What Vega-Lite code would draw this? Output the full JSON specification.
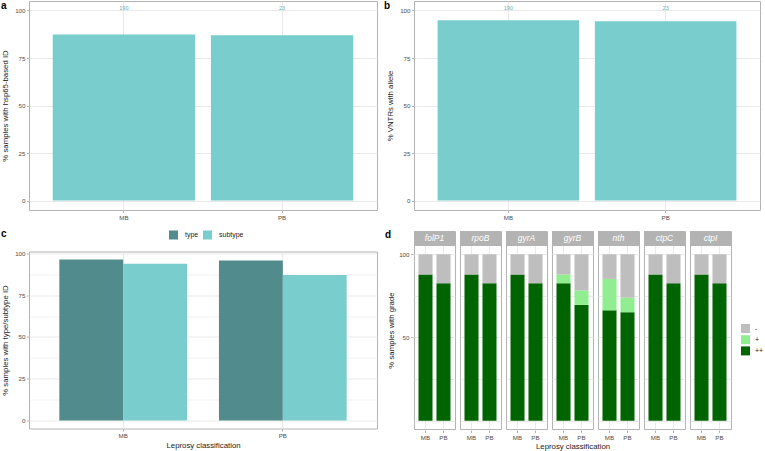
{
  "$schema": "https://vega.github.io/schema/vega-lite/v6.json",
  "padding": {"left": 0, "top": 0, "right": 0, "bottom": 0},
  "autosize": {"type": "pad"},
  "background": "white",
  "config": {
    "font": "Liberation Sans",
    "view": {"stroke": "#B3B3B3", "strokeWidth": 1},
    "axis": {
      "domain": false,
      "gridColor": "#E3E3E3",
      "gridWidth": 0.8,
      "tickColor": "#B3B3B3",
      "tickSize": 2.5,
      "labelFont": "Liberation Sans",
      "labelFontSize": 6.2,
      "labelColor": "#4D4D4D",
      "labelPadding": 1.5,
      "titleFont": "Liberation Sans",
      "titleFontSize": 7.8,
      "titleFontWeight": "normal",
      "titleColor": "#1A1A1A",
      "titlePadding": 5
    },
    "axisX": {"labelAngle": 0, "grid": true},
    "legend": {
      "title": null,
      "padding": 0,
      "symbolType": "square",
      "symbolSize": 81,
      "symbolStrokeWidth": 0,
      "labelFont": "Liberation Sans",
      "labelFontSize": 7,
      "labelColor": "#1A1A1A",
      "labelOffset": 7
    },
    "title": {"font": "Liberation Sans", "fontSize": 10, "fontWeight": "bold", "color": "#000000", "anchor": "start", "frame": "group"}
  },
  "datasets": {
    "ab": [
      {"panel": "a", "class": "MB", "pct": 87.4, "n": 190},
      {"panel": "a", "class": "PB", "pct": 87.0, "n": 23},
      {"panel": "b", "class": "MB", "pct": 94.9, "n": 190},
      {"panel": "b", "class": "PB", "pct": 94.3, "n": 23}
    ],
    "c": [
      {"class": "MB", "id": "type", "pct": 96.3},
      {"class": "MB", "id": "subtype", "pct": 93.7},
      {"class": "PB", "id": "type", "pct": 95.7},
      {"class": "PB", "id": "subtype", "pct": 87.0}
    ],
    "d": [
      {"gene": "folP1", "class": "MB", "grade": "++", "pct": 87.9},
      {"gene": "folP1", "class": "MB", "grade": "+", "pct": 0},
      {"gene": "folP1", "class": "MB", "grade": "-", "pct": 12.1},
      {"gene": "folP1", "class": "PB", "grade": "++", "pct": 82.6},
      {"gene": "folP1", "class": "PB", "grade": "+", "pct": 0},
      {"gene": "folP1", "class": "PB", "grade": "-", "pct": 17.4},
      {"gene": "rpoB", "class": "MB", "grade": "++", "pct": 87.9},
      {"gene": "rpoB", "class": "MB", "grade": "+", "pct": 0},
      {"gene": "rpoB", "class": "MB", "grade": "-", "pct": 12.1},
      {"gene": "rpoB", "class": "PB", "grade": "++", "pct": 82.6},
      {"gene": "rpoB", "class": "PB", "grade": "+", "pct": 0},
      {"gene": "rpoB", "class": "PB", "grade": "-", "pct": 17.4},
      {"gene": "gyrA", "class": "MB", "grade": "++", "pct": 87.9},
      {"gene": "gyrA", "class": "MB", "grade": "+", "pct": 0},
      {"gene": "gyrA", "class": "MB", "grade": "-", "pct": 12.1},
      {"gene": "gyrA", "class": "PB", "grade": "++", "pct": 82.6},
      {"gene": "gyrA", "class": "PB", "grade": "+", "pct": 0},
      {"gene": "gyrA", "class": "PB", "grade": "-", "pct": 17.4},
      {"gene": "gyrB", "class": "MB", "grade": "++", "pct": 82.6},
      {"gene": "gyrB", "class": "MB", "grade": "+", "pct": 5.3},
      {"gene": "gyrB", "class": "MB", "grade": "-", "pct": 12.1},
      {"gene": "gyrB", "class": "PB", "grade": "++", "pct": 69.6},
      {"gene": "gyrB", "class": "PB", "grade": "+", "pct": 8.7},
      {"gene": "gyrB", "class": "PB", "grade": "-", "pct": 21.7},
      {"gene": "nth", "class": "MB", "grade": "++", "pct": 66.3},
      {"gene": "nth", "class": "MB", "grade": "+", "pct": 18.9},
      {"gene": "nth", "class": "MB", "grade": "-", "pct": 14.8},
      {"gene": "nth", "class": "PB", "grade": "++", "pct": 65.2},
      {"gene": "nth", "class": "PB", "grade": "+", "pct": 8.7},
      {"gene": "nth", "class": "PB", "grade": "-", "pct": 26.1},
      {"gene": "ctpC", "class": "MB", "grade": "++", "pct": 87.9},
      {"gene": "ctpC", "class": "MB", "grade": "+", "pct": 0},
      {"gene": "ctpC", "class": "MB", "grade": "-", "pct": 12.1},
      {"gene": "ctpC", "class": "PB", "grade": "++", "pct": 82.6},
      {"gene": "ctpC", "class": "PB", "grade": "+", "pct": 0},
      {"gene": "ctpC", "class": "PB", "grade": "-", "pct": 17.4},
      {"gene": "ctpI", "class": "MB", "grade": "++", "pct": 87.9},
      {"gene": "ctpI", "class": "MB", "grade": "+", "pct": 0},
      {"gene": "ctpI", "class": "MB", "grade": "-", "pct": 12.1},
      {"gene": "ctpI", "class": "PB", "grade": "++", "pct": 82.6},
      {"gene": "ctpI", "class": "PB", "grade": "+", "pct": 0},
      {"gene": "ctpI", "class": "PB", "grade": "-", "pct": 17.4}
    ]
  },
  "spacing": 5,
  "resolve": {"scale": {"color": "independent", "x": "independent", "y": "independent"}, "legend": {"color": "independent"}},
  "hconcat": [
    {
      "spacing": 6.5,
      "resolve": {"scale": {"color": "independent", "x": "independent", "y": "independent"}, "legend": {"color": "independent"}},
      "vconcat": [
        {
          "width": 348,
          "height": 209,
          "title": {"text": "a", "offset": -9.5, "dx": -28},
          "data": {"name": "ab"},
          "transform": [{"filter": "datum.panel == 'a'"}],
          "layer": [
            {
              "mark": {"type": "bar", "color": "#79CDCD"},
              "encoding": {
                "x": {"field": "class", "type": "nominal", "scale": {"paddingInner": 0.1, "paddingOuter": 0.15}, "axis": {"title": null}},
                "y": {"field": "pct", "type": "quantitative", "title": "% samples with hsp65-based ID",
                  "scale": {"domain": [-5, 105], "nice": false, "zero": false},
                  "axis": {"values": [0, 12.5, 25, 37.5, 50, 62.5, 75, 87.5, 100],
                    "labelExpr": "datum.value % 25 === 0 ? datum.label : ''",
                    "tickOpacity": {"condition": {"test": "datum.value % 25 === 0", "value": 1}, "value": 0},
                    "gridWidth": {"condition": {"test": "datum.value % 25 === 0", "value": 0.8}, "value": 0.5}}}
              }
            },
            {
              "mark": {"type": "text", "color": "#5DB2B6", "baseline": "bottom", "fontSize": 5.5},
              "encoding": {
                "x": {"field": "class", "type": "nominal"},
                "y": {"datum": 100, "type": "quantitative", "title": "% samples with hsp65-based ID"},
                "text": {"field": "n", "type": "nominal"}
              }
            }
          ]
        },
        {
          "width": 348,
          "height": 177,
          "title": {"text": "c", "offset": -8, "dx": -28},
          "data": {"name": "c"},
          "mark": {"type": "bar"},
          "encoding": {
            "x": {"field": "class", "type": "nominal", "scale": {"paddingInner": 0.2, "paddingOuter": 0.19}, "axis": {"title": "Leprosy classification", "titlePadding": 3}},
            "xOffset": {"field": "id", "type": "nominal", "sort": ["type", "subtype"], "scale": {"paddingInner": 0, "paddingOuter": 0}},
            "y": {"field": "pct", "type": "quantitative", "title": "% samples with type/subtype ID",
              "scale": {"domain": [-4.8, 101.1], "nice": false, "zero": false},
              "axis": {"values": [0, 12.5, 25, 37.5, 50, 62.5, 75, 87.5, 100],
                "labelExpr": "datum.value % 25 === 0 ? datum.label : ''",
                "tickOpacity": {"condition": {"test": "datum.value % 25 === 0", "value": 1}, "value": 0},
                "gridWidth": {"condition": {"test": "datum.value % 25 === 0", "value": 0.8}, "value": 0.5}}},
            "color": {"field": "id", "type": "nominal",
              "scale": {"domain": ["type", "subtype"], "range": ["#528B8B", "#79CDCD"]},
              "legend": {"orient": "none", "direction": "horizontal", "legendX": 140, "legendY": -21, "columnPadding": 4}}
          }
        }
      ]
    },
    {
      "spacing": 8,
      "resolve": {"scale": {"color": "independent", "x": "independent", "y": "independent"}, "legend": {"color": "independent"}},
      "vconcat": [
        {
          "width": 346,
          "height": 209,
          "title": {"text": "b", "offset": -9.5, "dx": -30},
          "data": {"name": "ab"},
          "transform": [{"filter": "datum.panel == 'b'"}],
          "layer": [
            {
              "mark": {"type": "bar", "color": "#79CDCD"},
              "encoding": {
                "x": {"field": "class", "type": "nominal", "scale": {"paddingInner": 0.1, "paddingOuter": 0.15}, "axis": {"title": null}},
                "y": {"field": "pct", "type": "quantitative", "title": "% VNTRs with allele",
                  "scale": {"domain": [-5, 105], "nice": false, "zero": false},
                  "axis": {"values": [0, 12.5, 25, 37.5, 50, 62.5, 75, 87.5, 100],
                    "labelExpr": "datum.value % 25 === 0 ? datum.label : ''",
                    "tickOpacity": {"condition": {"test": "datum.value % 25 === 0", "value": 1}, "value": 0},
                    "gridWidth": {"condition": {"test": "datum.value % 25 === 0", "value": 0.8}, "value": 0.5}}}
              }
            },
            {
              "mark": {"type": "text", "color": "#5DB2B6", "baseline": "bottom", "fontSize": 5.5},
              "encoding": {
                "x": {"field": "class", "type": "nominal"},
                "y": {"datum": 100, "type": "quantitative", "title": "% VNTRs with allele"},
                "text": {"field": "n", "type": "nominal"}
              }
            }
          ]
        },
        {
          "title": {"text": "d", "offset": -9, "dx": -29},
          "data": {"name": "d"},
          "transform": [{"calculate": "indexof(['++', '+', '-'], datum.grade)", "as": "gi"}],
          "facet": {
            "column": {"field": "gene", "type": "nominal", "sort": ["folP1", "rpoB", "gyrA", "gyrB", "nth", "ctpC", "ctpI"],
              "header": {"title": "Leprosy classification", "titleOrient": "bottom", "labels": false,
                "titleFont": "Liberation Sans", "titleFontSize": 7.8, "titleFontWeight": "normal", "titleColor": "#1A1A1A",
                "titlePadding": -4, "titleBaseline": "middle"}}
          },
          "spacing": 3,
          "spec": {
            "width": 41,
            "height": 198,
            "layer": [
              {
                "mark": {"type": "bar"},
                "encoding": {
                  "x": {"field": "class", "type": "nominal", "scale": {"paddingInner": 0.22, "paddingOuter": 0.25}, "axis": {"title": null}},
                  "y": {"field": "pct", "type": "quantitative", "stack": "zero", "title": "% samples with grade",
                    "scale": {"domain": [-5, 114], "nice": false, "zero": false},
                    "axis": {"values": [0, 25, 50, 75, 100], "titlePadding": 3,
                      "labelExpr": "datum.value == 50 || datum.value == 100 ? datum.label : ''",
                      "tickOpacity": {"condition": {"test": "datum.value == 50 || datum.value == 100", "value": 1}, "value": 0}}},
                  "color": {"field": "grade", "type": "nominal",
                    "scale": {"domain": ["-", "+", "++"], "range": ["#BEBEBE", "#90EE90", "#006400"]},
                    "legend": {"orient": "none", "legendX": 327, "legendY": 93, "rowPadding": 2.2, "labelOffset": 5}},
                  "order": {"field": "gi", "type": "quantitative"}
                }
              },
              {
                "transform": [{"filter": "datum.class == 'MB' && datum.grade == '++'"}],
                "mark": {"type": "rect", "color": "#B3B3B3"},
                "encoding": {
                  "y": {"datum": 105, "type": "quantitative", "title": "% samples with grade"},
                  "y2": {"datum": 114}
                }
              },
              {
                "transform": [{"filter": "datum.class == 'MB' && datum.grade == '++'"}],
                "mark": {"type": "text", "color": "white", "fontStyle": "italic", "fontSize": 8.5, "baseline": "middle"},
                "encoding": {
                  "y": {"datum": 109.5, "type": "quantitative", "title": "% samples with grade"},
                  "text": {"field": "gene", "type": "nominal"}
                }
              }
            ]
          }
        }
      ]
    }
  ]
}
